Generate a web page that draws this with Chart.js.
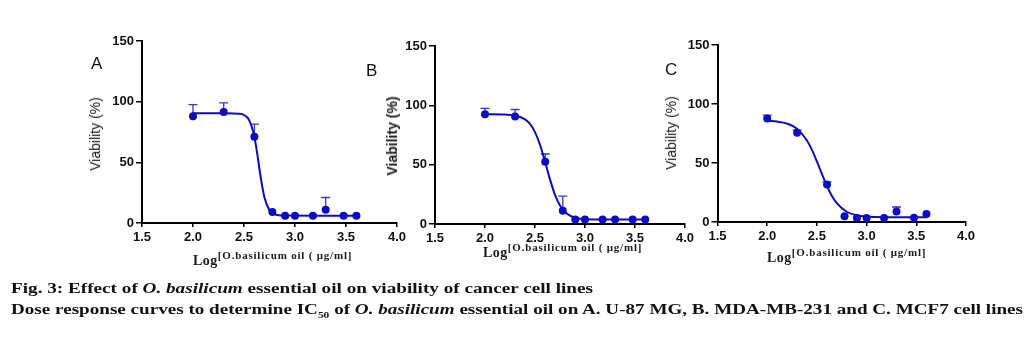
<!DOCTYPE html>
<html>
<head>
<meta charset="utf-8">
<script src="https://cdn.jsdelivr.net/npm/chart.js@4.4.1/dist/chart.umd.min.js"></script>
<style>
  html, body { margin: 0; padding: 0; background: #fff; }
  #page { position: relative; width: 1035px; height: 337px; overflow: hidden; background: #fff; }
  #page canvas { position: absolute; left: 0; top: 0; }
  .ytitle { position: absolute; font: 14px "Liberation Sans", Arial, sans-serif; color: #1a1a1a; white-space: nowrap;
            line-height: 14px; transform: translate(-50%, -50%) rotate(-90deg); }
  .ytitle.bold { font-weight: bold; }
  .xtitle { position: absolute; font: bold 14px "Liberation Serif", "Times New Roman", serif; line-height: 14px;
            color: #1a1a1a; white-space: nowrap; letter-spacing: 0.5px; }
  .xtitle span { position: relative; top: -6px; font-size: 11px; letter-spacing: 0.8px; }
  .letter { position: absolute; font: 17px "Liberation Sans", Arial, sans-serif; line-height: 17px; color: #111; }
  .caption { position: absolute; left: 11px; font: bold 15px "Liberation Serif", "Times New Roman", serif;
             line-height: 15px; color: #111; white-space: nowrap; transform-origin: 0 0; }
  .caption sub { font-size: 9px; vertical-align: -4px; line-height: 0; }
</style>
</head>
<body>
<div id="page">
  <canvas id="chartA" width="1035" height="337"></canvas>
  <canvas id="chartB" width="1035" height="337"></canvas>
  <canvas id="chartC" width="1035" height="337"></canvas>

  <div class="letter" style="left:91px; top:55px;">A</div>
  <div class="letter" style="left:366px; top:62px;">B</div>
  <div class="letter" style="left:665px; top:61px;">C</div>

  <div class="ytitle" style="left:95px; top:134px;">Viability (%)</div>
  <div class="ytitle bold" style="left:392px; top:136px;">Viability (%)</div>
  <div class="ytitle" style="left:671px; top:133px;">Viability (%)</div>

  <div class="xtitle" style="left:193px; top:254px;">Log<span>[O.basilicum oil ( μg/ml]</span></div>
  <div class="xtitle" style="left:483px; top:246px;">Log<span>[O.basilicum oil ( μg/ml]</span></div>
  <div class="xtitle" style="left:767px; top:251px;">Log<span>[O.basilicum oil ( μg/ml]</span></div>

  <div class="caption" id="cap1" data-w="582" style="top:281px;">Fig. 3: Effect of <i>O. basilicum</i> essential oil on viability of cancer cell lines</div>
  <div class="caption" id="cap2" data-w="1012" style="top:302px;">Dose response curves to determine IC<sub>50</sub> of <i>O. basilicum</i> essential oil on A. U-87 MG, B. MDA-MB-231 and C. MCF7 cell lines</div>
</div>

<script>
// log10 of the oil concentrations (same for the three cell lines)
const logConc = [2.0, 2.301, 2.602, 2.778, 2.903, 3.0, 3.176, 3.301, 3.477, 3.602]

// A. U-87 MG
const viabilityA = [88, 91.5, 71, 9, 6, 6, 6, 11, 6, 6]
const errTopA    = [97.5, 99, 81.5, null, null, null, null, 21, null, null]
const curveXA = [2.0, 2.3, 2.45, 2.5, 2.55, 2.6, 2.63, 2.66, 2.7, 2.75, 2.8, 2.9, 3.2, 3.6]
const curveYA = [90.5, 90.4, 90, 89, 84.8, 71.6, 57, 39.6, 21.2, 10.4, 7.2, 6.1, 6, 6]

// B. MDA-MB-231
const viabilityB = [92.5, 90.5, 52.5, 11.2, 3.7, 3.7, 3.7, 3.7, 3.7, 3.7]
const errTopB    = [97.5, 96.5, 59, 23.5, null, null, null, null, null, null]
const curveXB = [2.0, 2.2, 2.3, 2.4, 2.45, 2.5, 2.55, 2.6, 2.65, 2.7, 2.75, 2.8, 2.85, 2.9, 3.0, 3.6]
const curveYB = [92.5, 92.2, 91.4, 88.2, 84.3, 77.4, 66.8, 52.7, 37.6, 24.6, 15.6, 10.1, 7.1, 5.4, 4.1, 3.7]

// C. MCF7
const viabilityC = [87.7, 75.6, 31.7, 4.8, 3.4, 3.4, 3.4, 8.8, 3.7, 6.8]
const errTopC    = [90.6, 77.8, 34, null, null, null, null, 12.7, null, null]
const curveXC = [2.0, 2.1, 2.2, 2.3, 2.4, 2.45, 2.5, 2.55, 2.6, 2.65, 2.7, 2.8, 2.9, 3.0, 3.2, 3.6]
const curveYC = [85.7, 85.1, 83.4, 79.1, 69.1, 61.1, 51.3, 40.8, 30.7, 22.3, 16.0, 8.7, 5.7, 4.6, 4.1, 4.0]

const xTicks = [1.5, 2.0, 2.5, 3.0, 3.5, 4.0]
const yTicks = [0, 50, 100, 150]

const BLUE = "#0c0cc4"
const PAGE_W = 1035, PAGE_H = 337
const Y_AXIS_W = 30, X_AXIS_H = 30

// draws the upper error whiskers through the chart's own scales
const errorBars = {
    id: "errorBars",
    beforeDatasetsDraw(chart) {
        const ctx = chart.ctx
        const xs = chart.scales.x, ys = chart.scales.y
        chart.data.datasets.forEach(ds => {
            if (!ds.errTop) return
            ctx.save()
            ctx.strokeStyle = "#3535d4"
            ctx.lineWidth = 1.3
            ds.data.forEach((p, i) => {
                const top = ds.errTop[i]
                if (top == null) return
                const px = xs.getPixelForValue(p.x)
                const y0 = ys.getPixelForValue(p.y)
                const y1 = ys.getPixelForValue(top)
                ctx.beginPath()
                ctx.moveTo(px, y0)
                ctx.lineTo(px, y1)
                ctx.moveTo(px - 4.5, y1)
                ctx.lineTo(px + 4.5, y1)
                ctx.stroke()
            })
            ctx.restore()
        })
    }
}

function makePanel(id, area, vals, errs, cx, cy) {
    const tickFont = { family: "'Liberation Sans', Arial, sans-serif", size: 13, weight: "bold" }
    new Chart(document.getElementById(id).getContext("2d"), {
        type: "line",
        data: {
            datasets: [
                {
                    label: "mean",
                    data: logConc.map((x, i) => ({ x: x, y: vals[i] })),
                    errTop: errs,
                    showLine: false,
                    pointRadius: 4,
                    pointBackgroundColor: BLUE,
                    pointBorderColor: BLUE,
                    pointBorderWidth: 0
                },
                {
                    label: "fit",
                    data: cx.map((x, i) => ({ x: x, y: cy[i] })),
                    borderColor: BLUE,
                    borderWidth: 2,
                    pointRadius: 0,
                    fill: false,
                    cubicInterpolationMode: "monotone"
                }
            ]
        },
        options: {
            responsive: false,
            animation: false,
            events: [],
            layout: {
                padding: {
                    left: area.left - Y_AXIS_W,
                    top: area.top,
                    right: PAGE_W - area.right,
                    bottom: PAGE_H - area.bottom - X_AXIS_H
                }
            },
            plugins: { legend: { display: false }, tooltip: { enabled: false } },
            scales: {
                x: {
                    type: "linear",
                    min: 1.5,
                    max: 4.0,
                    afterFit: s => { s.height = X_AXIS_H },
                    afterBuildTicks: s => { s.ticks = xTicks.map(v => ({ value: v })) },
                    ticks: { font: tickFont, color: "#111", padding: 3, callback: v => v.toFixed(1), maxRotation: 0 },
                    grid: { drawOnChartArea: false, drawTicks: true, tickLength: 4, color: "#000", lineWidth: 1.5 },
                    border: { display: true, color: "#000", width: 2 }
                },
                y: {
                    type: "linear",
                    min: 0,
                    max: 150,
                    afterFit: s => { s.width = Y_AXIS_W },
                    afterBuildTicks: s => { s.ticks = yTicks.map(v => ({ value: v })) },
                    ticks: { font: tickFont, color: "#111", padding: 2 },
                    grid: { drawOnChartArea: false, drawTicks: true, tickLength: 6, color: "#000", lineWidth: 1.5 },
                    border: { display: true, color: "#000", width: 2 }
                }
            }
        },
        plugins: [errorBars]
    })
}

makePanel("chartA", { left: 142, top: 41, right: 397, bottom: 223 }, viabilityA, errTopA, curveXA, curveYA)
makePanel("chartB", { left: 435, top: 46, right: 685, bottom: 224 }, viabilityB, errTopB, curveXB, curveYB)
makePanel("chartC", { left: 717.5, top: 45, right: 966, bottom: 222 }, viabilityC, errTopC, curveXC, curveYC)

// squeeze/stretch the caption lines to the width they take in the figure
document.querySelectorAll(".caption").forEach(el => {
    const w = el.getBoundingClientRect().width
    el.style.transform = "scaleX(" + (Number(el.dataset.w) / w) + ")"
})
</script>
</body>
</html>
